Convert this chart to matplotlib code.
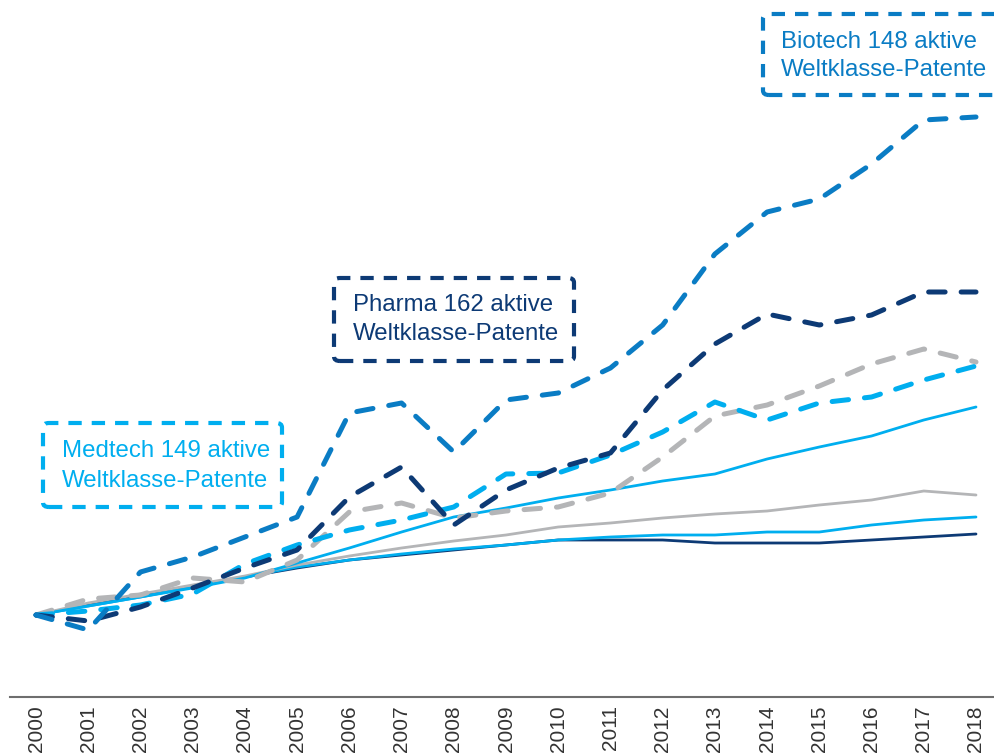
import matplotlib
matplotlib.use("Agg")
import matplotlib.pyplot as plt
from matplotlib.patches import FancyBboxPatch

plt.rcParams['font.family'] = ['Liberation Sans', 'DejaVu Sans']

years = list(range(2000, 2019))
year_labels = [str(y) for y in years]

# Index values (2000 = 100)
biotech = [100, 85, 143, 158, 178, 198, 302, 312, 263, 315, 322, 347, 390, 461, 503, 516, 551, 595, 598]
pharma = [100, 94, 108, 127, 147, 165, 218, 248, 190, 225, 247, 262, 325, 371, 401, 390, 400, 423, 423]
medtech = [100, 104, 110, 121, 151, 170, 185, 195, 208, 241, 242, 260, 283, 313, 295, 312, 318, 335, 349]
grey_dashed = [100, 116, 120, 137, 133, 155, 203, 212, 197, 204, 208, 222, 258, 299, 310, 329, 351, 366, 353]
solid_lightblue_1 = [100, 109, 118, 127, 137, 152, 167, 183, 198, 207, 217, 225, 234, 241, 256, 268, 279, 295, 308]
solid_grey = [100, 112, 121, 130, 139, 150, 159, 167, 174, 180, 188, 192, 197, 201, 204, 210, 215, 224, 220]
solid_lightblue_2 = [100, 109, 118, 128, 138, 148, 155, 161, 166, 170, 175, 178, 180, 180, 183, 183, 190, 195, 198]
solid_navy = [100, 110, 119, 128, 138, 147, 155, 160, 165, 170, 175, 175, 175, 172, 172, 172, 175, 178, 181]

notes = [
    ('Medtech 149 aktive', 'Weltklasse-Patente'),
    ('Pharma 162 aktive', 'Weltklasse-Patente'),
    ('Biotech 148 aktive', 'Weltklasse-Patente'),
]

C_BIO = '#0a7cc4'
C_PHA = '#0d3a75'
C_MED = '#00aeef'
C_GREY = '#b4b5b7'

W, H = 994, 753
fig = plt.figure(figsize=(W / 100, H / 100), dpi=100)
ax_left = 10 / W
ax_bottom = (H - 697) / H
ax = fig.add_axes([ax_left, ax_bottom, 1 - ax_left, 697 / H])
ax.set_xlim(2000 - 26 / 52.22, 2018 + 18 / 52.22)
ax.set_ylim(18, 715)

solid_lw = 2.0
for series, col in [(solid_navy, C_PHA), (solid_lightblue_2, C_MED),
                    (solid_grey, C_GREY), (solid_lightblue_1, C_MED)]:
    ax.plot(years, series, color=col, lw=solid_lw, solid_capstyle='round', zorder=2)

dash_lw = 3.6
dash = (3.3, 3.2)
for series, col, z in [(grey_dashed, C_GREY, 3), (medtech, C_MED, 4),
                       (pharma, C_PHA, 5), (biotech, C_BIO, 6)]:
    ln, = ax.plot(years, series, color=col, lw=dash_lw, zorder=z)
    ln.set_dashes(dash)
    ln.set_dash_capstyle('round')

for s in ['top', 'right', 'left']:
    ax.spines[s].set_visible(False)
ax.spines['bottom'].set_color('#6e6e6e')
ax.spines['bottom'].set_linewidth(1.5)
ax.set_yticks([])
ax.set_xticks(years)
ax.set_xticklabels(year_labels, rotation=90, fontsize=15, color='#333333')
ax.tick_params(axis='x', length=0, pad=6)


def px_to_fig(x, y):
    return x / W, 1 - y / H


def note_box(x0, y0, x1, y1, color, lines, tx, ty1, ty2):
    fx0, fy1 = px_to_fig(x0, y1)
    fx1, fy0 = px_to_fig(x1, y0)
    p = FancyBboxPatch((fx0, fy1), fx1 - fx0, fy0 - fy1,
                       boxstyle='round,pad=0,rounding_size=0.006',
                       transform=fig.transFigure, fill=False, edgecolor=color,
                       lw=3.0, linestyle=(0, (3.2, 2.4)), capstyle='butt', zorder=10)
    fig.add_artist(p)
    for line, ty in zip(lines, (ty1, ty2)):
        fx, fy = px_to_fig(tx, ty)
        fig.text(fx, fy, line, color=color, fontsize=17.3, ha='left', va='center')


note_box(43, 423, 282, 507, C_MED, notes[0], 62, 451, 481)
note_box(334, 278, 574, 361, C_PHA, notes[1], 353, 305, 334)
note_box(763, 14, 1005, 95, C_BIO, notes[2], 781, 42, 70)

fig.savefig('out.png', dpi=100)
